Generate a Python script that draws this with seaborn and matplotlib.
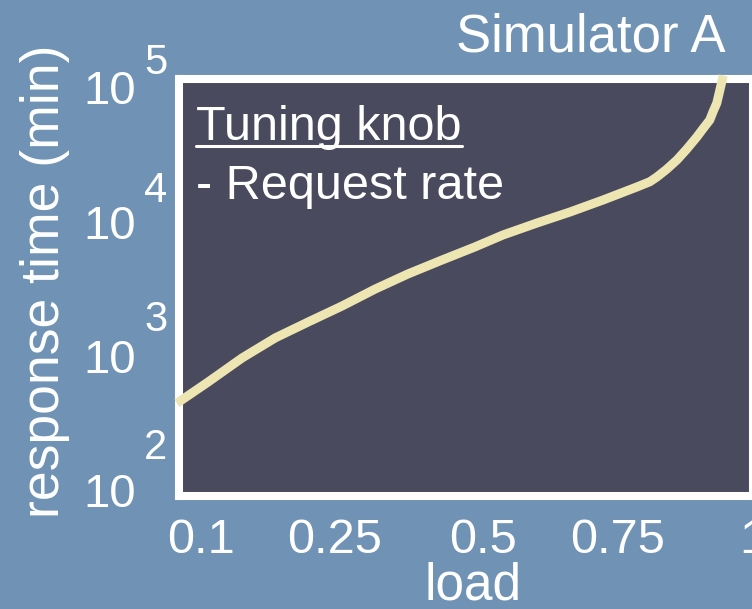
import numpy as np
import pandas as pd
import matplotlib
matplotlib.use("Agg")
import matplotlib.pyplot as plt
from matplotlib import transforms
from matplotlib.lines import Line2D
from matplotlib.ticker import NullLocator
import seaborn as sns

# ---------------- data ----------------
load = [0.073, 0.108, 0.146, 0.183, 0.220, 0.262, 0.318, 0.373, 0.431, 0.486,
        0.537, 0.600, 0.661, 0.722, 0.785, 0.809, 0.822, 0.840, 0.859, 0.877,
        0.896, 0.908, 0.920, 0.926, 0.933, 0.945]
response_min = [465, 661, 984, 1371, 1786, 2328, 3084, 3954, 4989, 6183,
                7548, 9205, 11040, 13460, 16720, 18240, 19720, 22400, 26120, 31200,
                38280, 44200, 50700, 58200, 67150, 106000]
x_tick_values = [0.1, 0.25, 0.5, 0.75, 1.0]
x_tick_labels = ["0.1", "0.25", "0.5", "0.75", "1"]
y_exponents = [2, 3, 4, 5]
title_text = "Simulator A"
annot_heading = "Tuning knob"
annot_item = "- Request rate"
x_label = "load"
y_label = "response time (min)"

# ---------------- style ----------------
BG = "#7093b5"
AX_BG = "#4a4a5e"
LINE = "#ede6b2"
FG = "white"

sns.set_style("white")
plt.rcParams["font.family"] = ["Liberation Sans", "DejaVu Sans"]

# the original x axis spaces its ticks non-uniformly
scale_knots = [-1.0, 0.0, 0.1, 0.25, 0.5, 0.75, 1.0, 2.0]
scale_pos = [-8.9, 0.0, 0.89, 2.23, 3.71, 5.06, 6.41, 11.81]


def fwd(v):
    return np.interp(v, scale_knots, scale_pos)


def inv(v):
    return np.interp(v, scale_pos, scale_knots)


W, H = 752, 609
fig = plt.figure(figsize=(W / 100, H / 100), dpi=100, facecolor=BG)
ax = fig.add_axes([179 / W, (H - 496) / H, 574 / W, 417 / H])
ax.set_facecolor(AX_BG)

df = pd.DataFrame({"load": load, "response": response_min})
sns.lineplot(data=df, x="load", y="response", ax=ax, color=LINE, linewidth=6.5,
             clip_on=False, zorder=3, solid_capstyle="butt",
             solid_joinstyle="round")

ax.set_xscale("function", functions=(fwd, inv))
ax.set_yscale("log")
ax.set_xlim(0.0753, 1.0)
ax.set_ylim(1e2, 1e5)

for s in ax.spines.values():
    s.set_color(FG)
    s.set_linewidth(5.8)
    s.set_visible(True)

ax.set_xticks(x_tick_values, x_tick_labels)
ax.xaxis.set_minor_locator(NullLocator())
ax.tick_params(axis="x", length=0, pad=16, labelsize=35, colors=FG)
ax.set_yticks([])
ax.yaxis.set_minor_locator(NullLocator())

# MATLAB-like "10^k" labels with large exponents
ytrans = ax.get_yaxis_transform()
for k in y_exponents:
    j = k - y_exponents[0]
    tb = transforms.offset_copy(ytrans, fig=fig, x=-43, y=-(4.8 * j - 1), units="dots")
    ax.text(0, 10.0 ** k, "10", transform=tb, ha="right", va="center",
            fontsize=34, color=FG, clip_on=False)
    te = transforms.offset_copy(ytrans, fig=fig, x=-35, y=48 - 10.7 * j, units="dots")
    ax.text(0, 10.0 ** k, str(k), transform=te, ha="left", va="center",
            fontsize=30, color=FG, clip_on=False)

ax.set_xlabel(x_label, fontsize=37, color=FG)
ax.xaxis.set_label_coords(0.512, -0.158)
ax.set_ylabel(y_label, fontsize=38.5, color=FG)
ax.yaxis.set_label_coords(-0.19, 0.515)

ax.text(0.952, 1.065, title_text, transform=ax.transAxes, ha="right",
        va="baseline", fontsize=38, color=FG)
heading = ax.text(0.030, 0.854, annot_heading, transform=ax.transAxes,
                  ha="left", va="baseline", fontsize=35, color=FG)
ax.text(0.030, 0.712, annot_item, transform=ax.transAxes, ha="left",
        va="baseline", fontsize=35, color=FG)

# underline the heading
renderer = fig.canvas.get_renderer()
bb = heading.get_window_extent(renderer=renderer)
base_px = ax.transAxes.transform((0.030, 0.854))[1]
uy = base_px - 6
fig.add_artist(Line2D([bb.x0 / W, bb.x1 / W], [uy / H, uy / H],
                      color=FG, linewidth=2.2, transform=fig.transFigure))

fig.savefig("out.png", dpi=100, facecolor=BG)
